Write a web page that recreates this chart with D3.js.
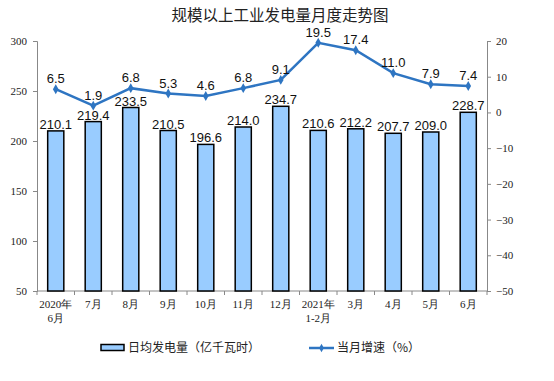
<!DOCTYPE html>
<html><head><meta charset="utf-8">
<script src="https://cdn.jsdelivr.net/npm/d3@7"></script>
<style>body{margin:0;background:#fff}</style>
</head><body>
<svg id="c" width="554" height="381"></svg>
<script>
const categories = [["2020年","6月"],["7月"],["8月"],["9月"],["10月"],["11月"],["12月"],["2021年","1-2月"],["3月"],["4月"],["5月"],["6月"]];
const dailyOutput = [210.1,219.4,233.5,210.5,196.6,214.0,234.7,210.6,212.2,207.7,209.0,228.7];
const growth = [6.5,1.9,6.8,5.3,4.6,6.8,9.1,19.5,17.4,11.0,7.9,7.4];
const leftTicks = [50,100,150,200,250,300];
const rightTicks = [-50,-40,-30,-20,-10,0,10,20];

const svg = d3.select("#c");
const L = 37, R = 487, T = 41, B = 291;
const x = d3.scaleBand().domain(d3.range(categories.length)).range([L,R]).paddingInner(0.57).paddingOuter(0.285);
const yL = d3.scaleLinear().domain([50,300]).range([B,T]);
const yR = d3.scaleLinear().domain([-50,20]).range([B,T]);
const axisColor = "#888";
const serif = "'Liberation Serif','Times New Roman',serif";

svg.append("text").attr("x",280).attr("y",21).attr("text-anchor","middle")
  .attr("font-family","'Noto Sans CJK SC',sans-serif").attr("font-size",15.5).attr("fill","#222").text("规模以上工业发电量月度走势图");

// left axis
const gl = svg.append("g").attr("transform",`translate(${L},0)`).call(d3.axisLeft(yL).tickValues(leftTicks).tickSize(4).tickPadding(6));
gl.selectAll("path,line").attr("stroke",axisColor);
gl.selectAll("text").attr("font-family",serif).attr("font-size",11).attr("fill","#222");
// right axis
const gr = svg.append("g").attr("transform",`translate(${R},0)`).call(d3.axisRight(yR).tickValues(rightTicks).tickSize(4).tickPadding(5));
gr.selectAll("path,line").attr("stroke",axisColor);
gr.selectAll("text").attr("font-family",serif).attr("font-size",11).attr("fill","#222");

// bottom axis
const step = (R-L)/categories.length;
svg.append("line").attr("x1",L).attr("x2",R).attr("y1",B).attr("y2",B).attr("stroke",axisColor);
svg.selectAll(".bt").data(d3.range(categories.length+1)).enter().append("line")
  .attr("x1",d=>L+d*step).attr("x2",d=>L+d*step).attr("y1",B).attr("y2",B+4).attr("stroke",axisColor);
const xl = svg.selectAll(".xl").data(categories).enter().append("text")
  .attr("text-anchor","middle").attr("font-family",serif).attr("font-size",11).attr("fill","#222")
  .attr("transform",(d,i)=>`translate(${x(i)+x.bandwidth()/2},${B+17})`);
xl.selectAll("tspan").data(d=>d).enter().append("tspan").attr("x",0).attr("dy",(d,i)=>i?14:0).text(d=>d);

// bars
svg.selectAll(".bar").data(dailyOutput).enter().append("rect")
  .attr("x",(d,i)=>x(i)).attr("width",x.bandwidth())
  .attr("y",d=>yL(d)).attr("height",d=>B-yL(d))
  .attr("fill","#99ccff").attr("stroke","#000").attr("stroke-width",1.5);
svg.selectAll(".bl").data(dailyOutput).enter().append("text")
  .attr("x",(d,i)=>x(i)+x.bandwidth()/2).attr("y",d=>yL(d)-2).attr("text-anchor","middle")
  .attr("font-family","'Liberation Sans',Arial,sans-serif").attr("font-size",13).attr("fill","#111")
  .text(d=>d.toFixed(1));

// line
const cx = i=>x(i)+x.bandwidth()/2;
svg.append("path").datum(growth).attr("fill","none").attr("stroke","#2e75c2").attr("stroke-width",2.5)
  .attr("d",d3.line().x((d,i)=>cx(i)).y(d=>yR(d)));
svg.selectAll(".pt").data(growth).enter().append("path")
  .attr("d",d3.symbol(d3.symbolDiamond,28)).attr("fill","#2e75c2")
  .attr("transform",(d,i)=>`translate(${cx(i)},${yR(d)})`);
svg.selectAll(".ll").data(growth).enter().append("text")
  .attr("x",(d,i)=>cx(i)).attr("y",d=>yR(d)-6).attr("text-anchor","middle")
  .attr("font-family","'Liberation Sans',Arial,sans-serif").attr("font-size",13).attr("fill","#111")
  .text(d=>d.toFixed(1));

// legend
const lg = svg.append("g");
lg.append("rect").attr("x",101).attr("y",344.5).attr("width",23).attr("height",6).attr("fill","#99ccff").attr("stroke","#000").attr("stroke-width",1.5);
lg.append("text").attr("x",128).attr("y",352).attr("font-family","'Noto Sans CJK SC',sans-serif").attr("font-size",12).attr("fill","#222").text("日均发电量（亿千瓦时）");
lg.append("line").attr("x1",309).attr("x2",334).attr("y1",348).attr("y2",348).attr("stroke","#2e75c2").attr("stroke-width",2.5);
lg.append("path").attr("d",d3.symbol(d3.symbolDiamond,20)).attr("fill","#2e75c2").attr("transform","translate(321.5,348)");
lg.append("text").attr("x",337).attr("y",352).attr("font-family","'Noto Sans CJK SC',sans-serif").attr("font-size",12).attr("fill","#222").text("当月增速（%）");
</script>
</body></html>
